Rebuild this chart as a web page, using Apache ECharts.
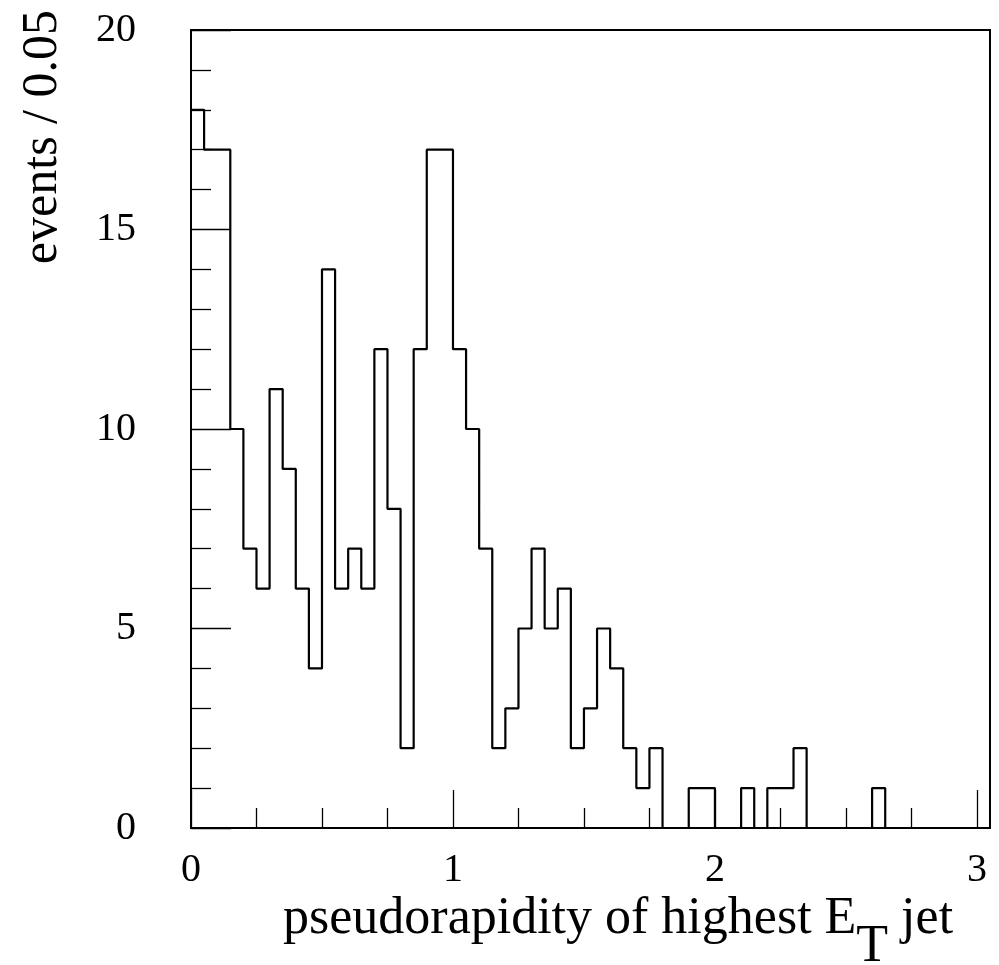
<!DOCTYPE html>
<html><head><meta charset="utf-8">
<script src="https://cdn.jsdelivr.net/npm/echarts@6/dist/echarts.min.js"></script>
<style>html,body{margin:0;padding:0;background:#fff}#c{width:999px;height:965px}</style>
</head><body><div id="c"></div>
<script>
// Histogram data: events per 0.05 bin of pseudorapidity, starting at 0
const binWidth = 0.05;
const counts = [18,17,17,10,7,6,11,9,6,4,14,6,7,6,12,8,2,12,17,17,
                12,10,7,2,3,5,7,5,6,2,3,5,4,2,1,2,0,0,1,1,
                0,0,1,0,1,1,2,0,0,0,0,0,1,0,0,0,0,0,0,0,0];
const xMin = 0, xMax = 3.05;
const xMajorTicks = [0,1,2,3];
const xMinorTicks = [0.25,0.5,0.75,1.25,1.5,1.75,2.25,2.5,2.75];
const xTickLabels = ['0','1','2','3'];
const yMin = 0, yMax = 20, yInterval = 5;
const xTitle = ['pseudorapidity of highest E', 'T', ' jet'];
const yTitle = 'events / 0.05';

const stepData = counts.map((c, i) => [+(i * binWidth).toFixed(4), c]);
stepData.push([+(counts.length * binWidth).toFixed(4), counts[counts.length - 1]]);

const FONT = '"Liberation Serif", "Times New Roman", serif';
const chart = echarts.init(document.getElementById('c'), null, {renderer: 'canvas'});
chart.setOption({
  animation: false,
  backgroundColor: '#fff',
  grid: {left: 191, right: 9, top: 30, bottom: 137, show: true, borderColor: '#000', borderWidth: 2,
         backgroundColor: 'transparent', containLabel: false, outerBoundsMode: 'none'},
  xAxis: [{
    type: 'value', min: xMin, max: xMax, interval: 1,
    axisLine: {show: false},
    splitLine: {show: false},
    axisTick: {show: true, inside: true, length: 38, customValues: xMajorTicks, lineStyle: {color: '#000', width: 1.3}},
    axisLabel: {show: true, customValues: xMajorTicks, margin: 22, color: '#000', fontSize: 40, fontFamily: FONT,
                formatter: v => { const k = xMajorTicks.indexOf(v); return k >= 0 ? xTickLabels[k] : ''; }}
  }, {
    type: 'value', min: xMin, max: xMax, position: 'bottom', gridIndex: 0,
    axisLine: {show: false}, splitLine: {show: false},
    axisTick: {show: true, inside: true, length: 20, customValues: xMinorTicks, lineStyle: {color: '#000', width: 1.3}},
    axisLabel: {show: false}
  }],
  yAxis: {
    type: 'value', min: yMin, max: yMax, interval: yInterval,
    axisLine: {show: false}, splitLine: {show: false},
    axisTick: {show: true, inside: true, length: 40, lineStyle: {color: '#000', width: 1.3}},
    minorTick: {show: true, splitNumber: 5, length: 20, lineStyle: {color: '#000', width: 1.3}},
    minorSplitLine: {show: false},
    axisLabel: {margin: 55, color: '#000', fontSize: 40, fontFamily: FONT}
  },
  series: [{
    type: 'line', step: 'end', data: stepData, xAxisIndex: 0,
    symbol: 'none', showSymbol: false,
    lineStyle: {color: '#000', width: 2.2}, z: 5
  }],
  graphic: [{
    type: 'text', x: 43, y: 10, rotation: Math.PI / 2, z: 10,
    style: {text: yTitle, fill: '#000', font: '50px ' + FONT, align: 'right', verticalAlign: 'middle'}
  }, {
    type: 'text', x: 283, y: 893, z: 10,
    style: {
      text: '{m|' + xTitle[0] + '}{s|' + xTitle[1] + '}{m|' + xTitle[2] + '}',
      align: 'left', verticalAlign: 'top', fill: '#000',
      rich: {
        m: {fontSize: 52, fontFamily: FONT, fill: '#000', verticalAlign: 'top'},
        s: {fontSize: 52, fontFamily: FONT, fill: '#000', verticalAlign: 'top', padding: [28, 0, 0, 0]}
      }
    }
  }]
});
</script></body></html>
